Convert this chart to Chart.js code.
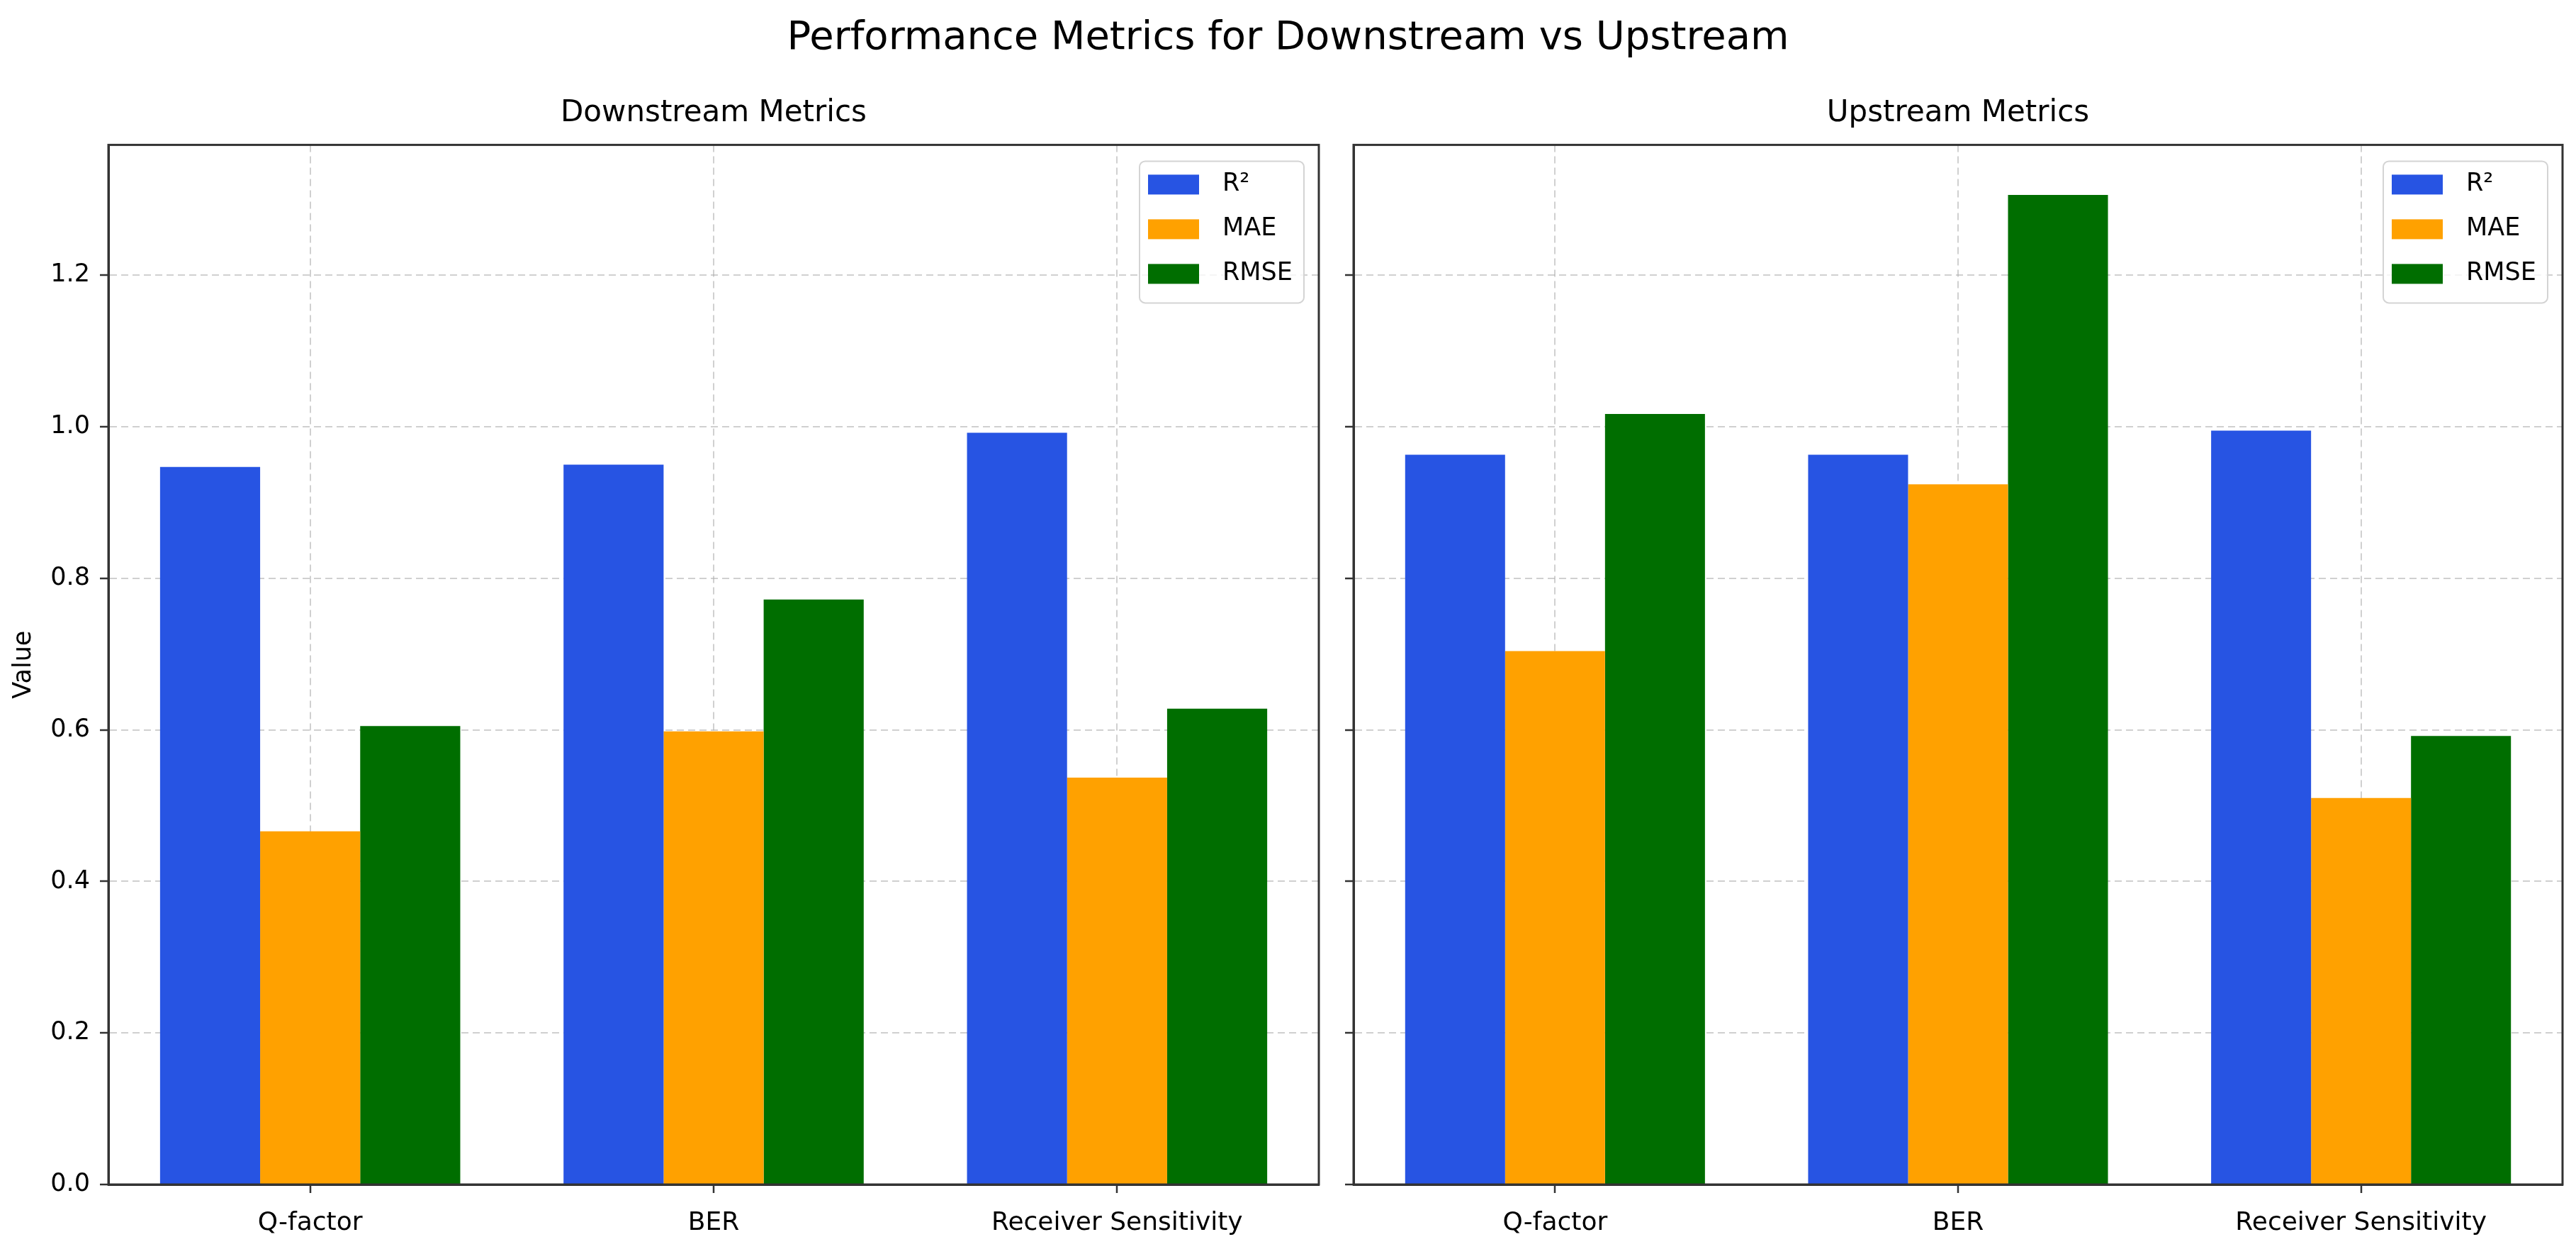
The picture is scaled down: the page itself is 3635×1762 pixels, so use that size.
<!DOCTYPE html>
<html>
<head>
<meta charset="utf-8">
<script src="https://cdn.jsdelivr.net/npm/chart.js@4.4.0/dist/chart.umd.min.js"></script>
<style>
  html, body { margin: 0; padding: 0; background: #fff; }
  #wrap { position: relative; width: 3635px; height: 1762px; overflow: hidden; }
  #suptitle { position: absolute; left: 0; top: 20px; width: 3635px; text-align: center;
              font: 56px "DejaVu Sans"; line-height: 60px; color: #000; }
  #down { position: absolute; left: 0; top: 0; }
  #up { position: absolute; left: 1885px; top: 0; }
</style>
</head>
<body>
<div id="wrap">
  <canvas id="down" width="1885" height="1762"></canvas>
  <canvas id="up" width="1750" height="1762"></canvas>
  <div id="suptitle">Performance Metrics for Downstream vs Upstream</div>
</div>
<script>
// data
const categories = ['Q-factor', 'BER', 'Receiver Sensitivity'];
const metricNames = ['R²', 'MAE', 'RMSE'];

const downR2 = [0.947, 0.950, 0.992];
const downMAE = [0.466, 0.598, 0.537];
const downRMSE = [0.605, 0.772, 0.628];

const upR2 = [0.963, 0.963, 0.995];
const upMAE = [0.704, 0.924, 0.510];
const upRMSE = [1.017, 1.306, 0.592];

const yTicks = [0.0, 0.2, 0.4, 0.6, 0.8, 1.0, 1.2];
const yMax = 1.372;

const barColors = ['#2754E3', '#FFA100', '#006E00'];

Chart.defaults.font.family = '"DejaVu Sans", sans-serif';
Chart.defaults.color = '#000';

// matplotlib style box around the axes
const framePlugin = {
    id: 'frame',
    afterDraw(chart) {
        const { ctx, chartArea: a } = chart;
        ctx.save();
        ctx.strokeStyle = '#333';
        ctx.lineWidth = 3;
        ctx.strokeRect(a.left, a.top, a.right - a.left, a.bottom - a.top);
        ctx.restore();
    }
};

// legend in the upper right corner of the plot
const boxLegend = {
    id: 'boxLegend',
    afterDraw(chart) {
        const { ctx, chartArea: a } = chart;
        const w = 232, h = 200;
        const x = a.right - 21 - w, y = a.top + 23;
        ctx.save();
        ctx.fillStyle = 'rgba(255,255,255,0.8)';
        ctx.strokeStyle = '#d4d4d4';
        ctx.lineWidth = 2;
        ctx.beginPath();
        ctx.roundRect(x, y, w, h, 8);
        ctx.fill();
        ctx.stroke();
        ctx.font = '35px "DejaVu Sans"';
        ctx.textBaseline = 'middle';
        chart.data.datasets.forEach((ds, i) => {
            const cy = y + 33 + i * 63;
            ctx.fillStyle = ds.backgroundColor;
            ctx.fillRect(x + 12, cy - 14, 72, 28);
            ctx.fillStyle = '#000';
            ctx.fillText(ds.label, x + 117, cy);
        });
        ctx.restore();
    }
};

function makeChart(id, title, r2, mae, rmse, showLabels, yWidth, padRight) {
    const series = [r2, mae, rmse];
    return new Chart(document.getElementById(id), {
        type: 'bar',
        data: {
            labels: categories,
            datasets: series.map((d, i) => ({
                label: metricNames[i],
                data: d,
                backgroundColor: barColors[i]
            }))
        },
        options: {
            responsive: false,
            animation: false,
            devicePixelRatio: 1,
            layout: { padding: { left: 0, right: padRight, top: 0, bottom: 0 } },
            datasets: { bar: { categoryPercentage: 0.744, barPercentage: 1.0 } },
            plugins: {
                legend: { display: false },
                tooltip: { enabled: false },
                title: {
                    display: true,
                    fullSize: false,
                    text: title,
                    color: '#000',
                    font: { size: 42, weight: 'normal' },
                    padding: { top: 135, bottom: 19 }
                }
            },
            scales: {
                x: {
                    z: 1,
                    grid: {
                        offset: false,
                        color: 'rgba(176,176,176,0.6)',
                        lineWidth: 2,
                        tickLength: 12,
                        tickColor: '#333',
                        tickWidth: 2.5
                    },
                    border: { color: '#333', width: 3, dash: [10, 6] },
                    ticks: { font: { size: 36 }, color: '#000', padding: 21, maxRotation: 0, autoSkip: false },
                    afterFit: s => { s.height = 91; }
                },
                y: {
                    min: 0,
                    max: yMax,
                    z: 1,
                    grid: {
                        color: 'rgba(176,176,176,0.6)',
                        lineWidth: 2,
                        tickLength: 12,
                        tickColor: '#333',
                        tickWidth: 2.5
                    },
                    border: { color: '#333', width: 3, dash: [10, 6] },
                    title: {
                        display: showLabels,
                        text: 'Value',
                        color: '#000',
                        font: { size: 35 },
                        padding: { top: 13, bottom: 0 }
                    },
                    ticks: {
                        display: showLabels,
                        includeBounds: false,
                        padding: 14,
                        color: '#000',
                        font: { size: 35 },
                        callback: v => Number(v).toFixed(1)
                    },
                    afterBuildTicks: s => { s.ticks = yTicks.map(v => ({ value: v })); },
                    afterFit: s => { s.width = yWidth; }
                }
            }
        },
        plugins: [framePlugin, boxLegend]
    });
}

makeChart('down', 'Downstream Metrics', downR2, downMAE, downRMSE, true, 153, 24);
makeChart('up', 'Upstream Metrics', upR2, upMAE, upRMSE, false, 25, 19);
</script>
</body>
</html>
